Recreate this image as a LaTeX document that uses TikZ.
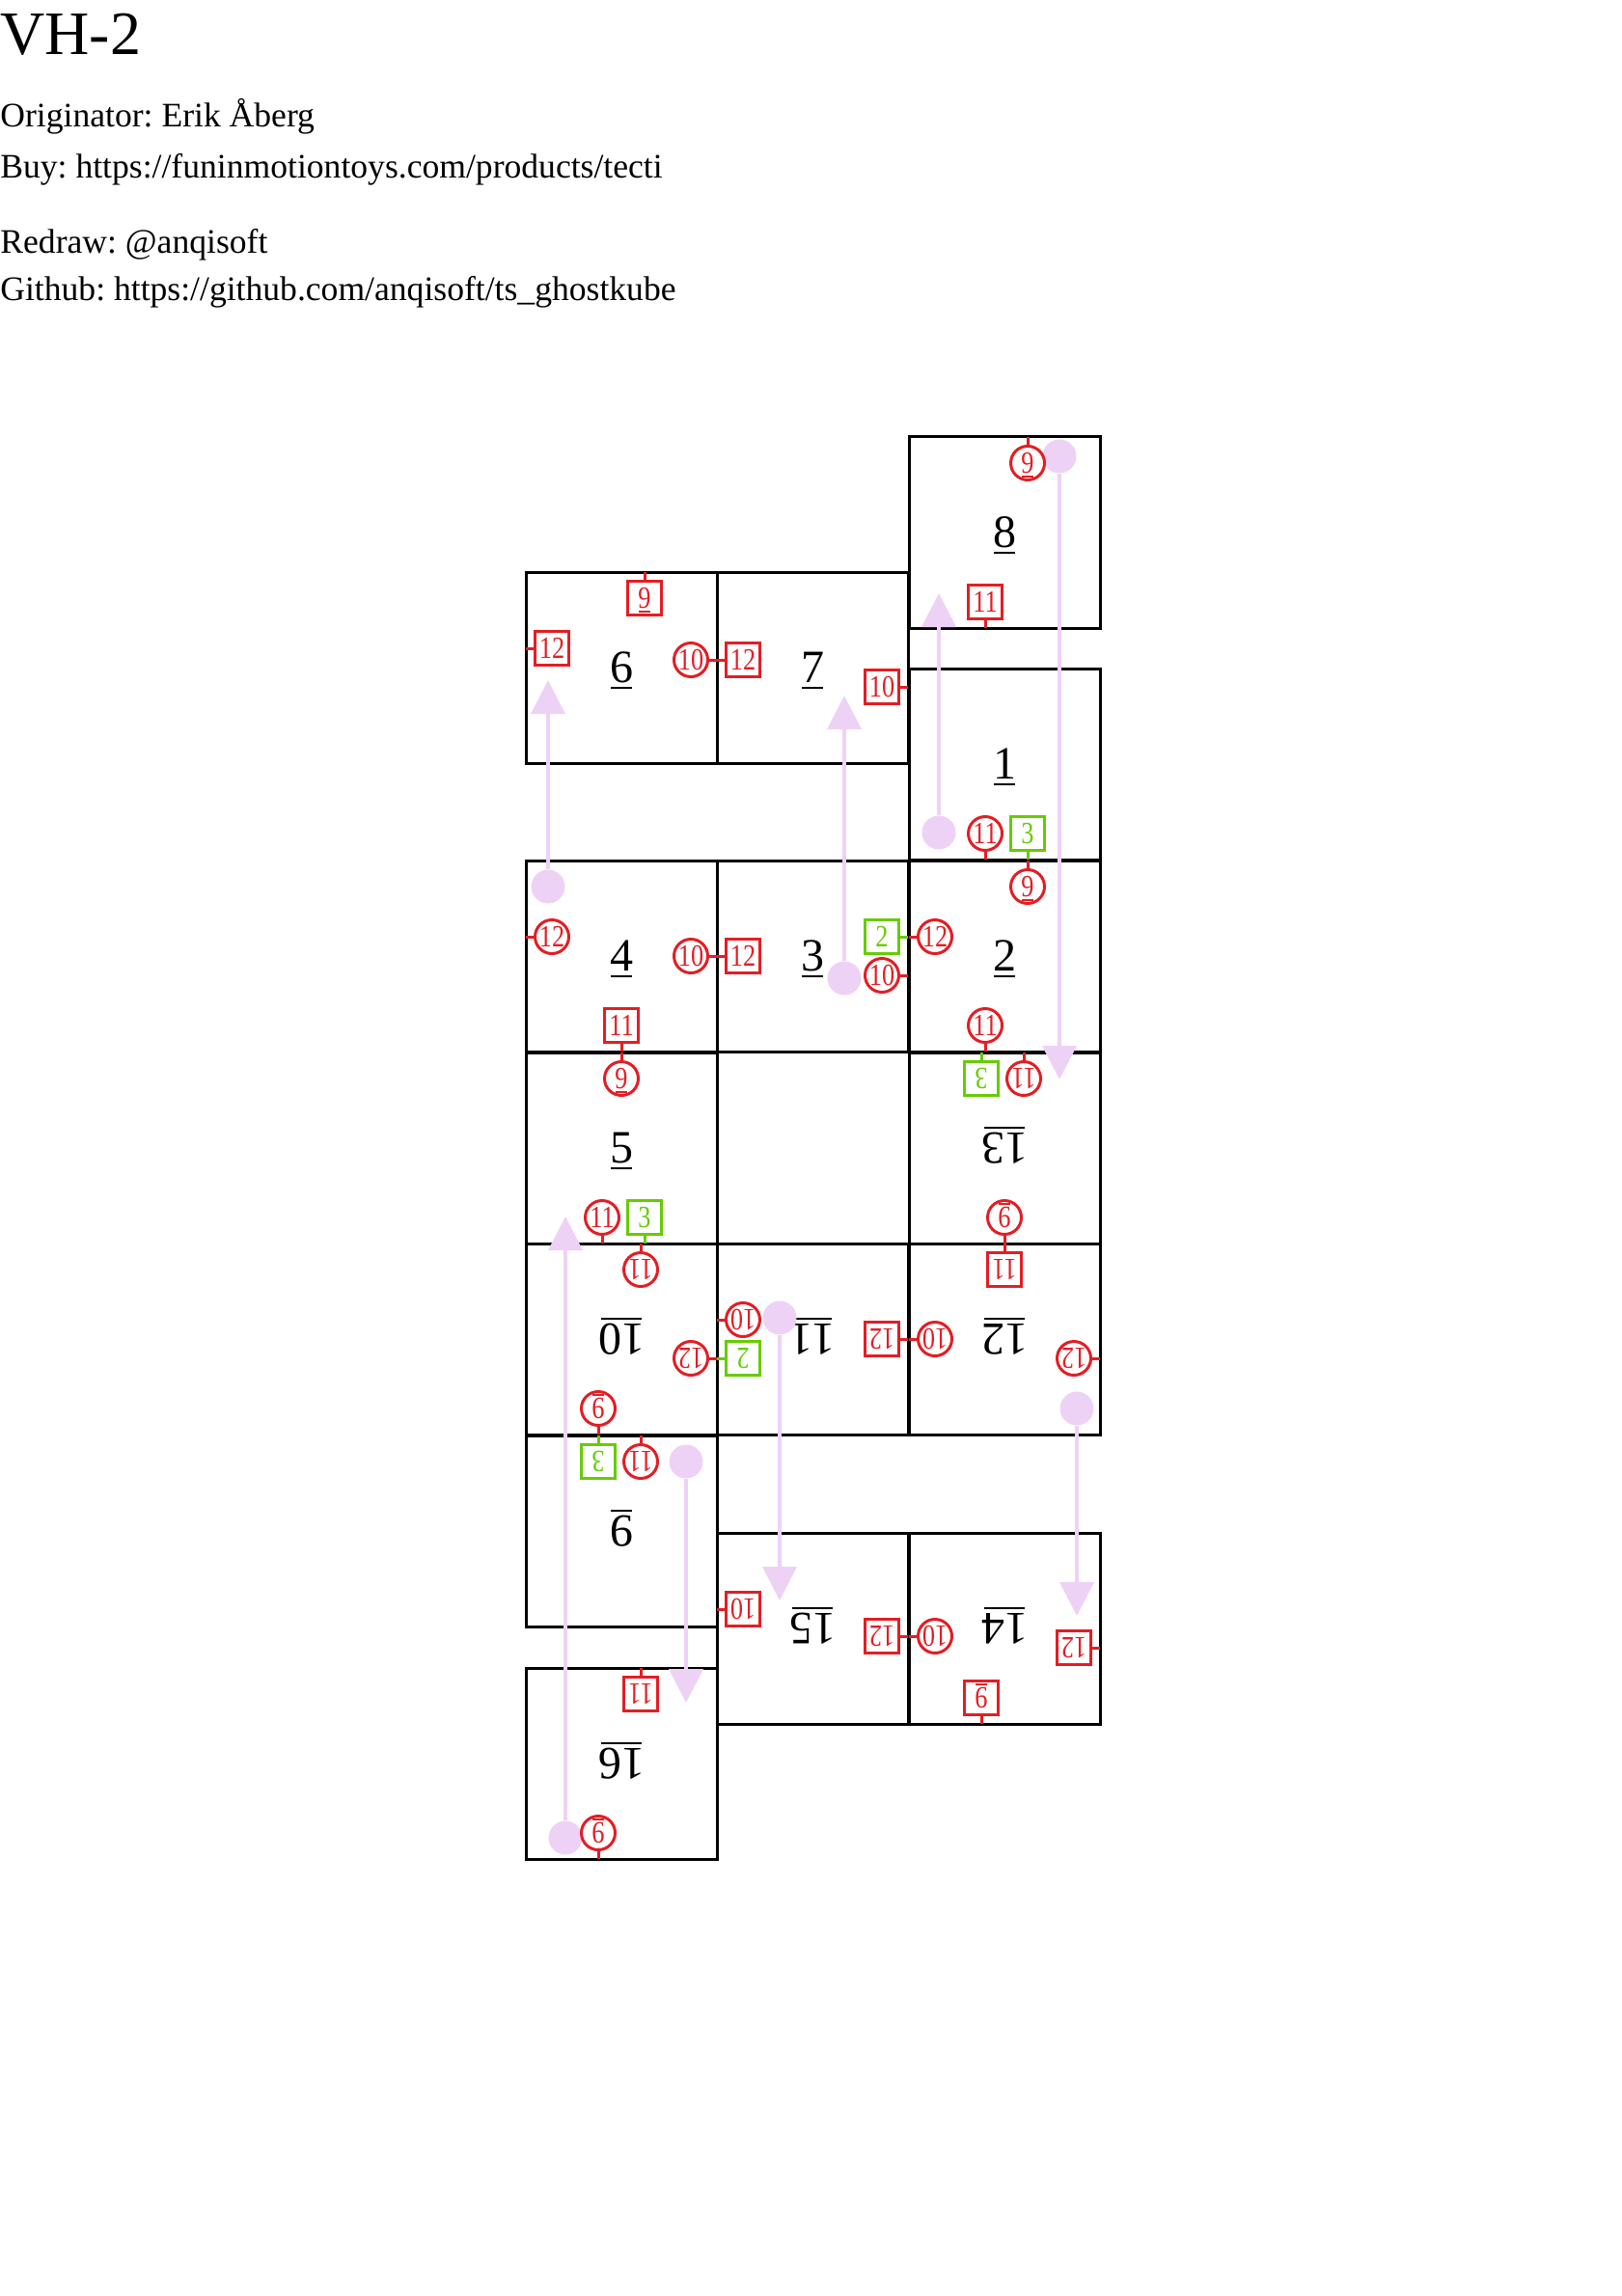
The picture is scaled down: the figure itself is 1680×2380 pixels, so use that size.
\documentclass[tikz,border=0pt]{standalone}
\usepackage{fontspec}
\setmainfont{Liberation Serif}
\newfontfamily\markfont[FakeStretch=0.82]{Liberation Serif}
\usepackage{tikz}
\usepackage{xcolor}
\usetikzlibrary{arrows.meta}

\definecolor{mkred}{RGB}{227,30,36}
\definecolor{mkgreen}{RGB}{102,204,0}
\definecolor{ghost}{RGB}{238,210,246}

\newcommand{\ulnum}[1]{\setbox0=\hbox{#1}\rlap{\kern0.06\wd0\rule[-0.13em]{0.88\wd0}{0.045em}}\box0}
\frenchspacing

\begin{document}
\begin{tikzpicture}[x=0.5pt, y=-0.5pt,
    cellbox/.style={draw, line width=1.5pt, minimum size=99pt, inner sep=0pt, outer sep=0pt},
    celllab/.style={font=\fontsize{24}{28}\selectfont, text depth=0pt, inner sep=0pt},
    cellflip/.style={celllab, rotate=180},
    mkcirc/.style={circle, draw=mkred, text=mkred, fill=white, line width=1.5pt, minimum size=17.5pt, inner sep=0pt, font=\markfont\fontsize{16}{18}\selectfont, text depth=0pt},
    mksq/.style={mkcirc, rectangle},
    mkgsq/.style={mksq, draw=mkgreen, text=mkgreen},
    upside/.style={rotate=180},
    tickr/.style={line width=1.5pt, mkred},
    tickg/.style={line width=1.5pt, mkgreen},
    ghostdot/.style={circle, fill=ghost, minimum size=17.5pt, inner sep=0pt},
    ghostpath/.style={ghost, line width=2pt, -{Triangle[width=17.5pt, length=17.5pt]}},
    head/.style={anchor=base west, inner sep=0pt, font=\fontsize{17.8}{20}\selectfont}]
    \useasboundingbox (0,0) rectangle (1680,2380);

    % Header texts
    \node[head, font=\fontsize{32}{38}\selectfont] (title) at (0,57) {VH-2};
    \node[head] (orig) at (0,132) {Originator: Erik Åberg};
    \node[head] (buy) at (0,185) {Buy: https://funinmotiontoys.com/products/tecti};
    \node[head] (redraw) at (0,263) {Redraw: @anqisoft};
    \node[head] (github) at (0,312) {Github: https://github.com/anqisoft/ts\_ghostkube};

    % Cells
    \node[cellbox] (c8) at (1041,552) {};
    \node[cellbox] (c6) at (644,692) {};
    \node[cellbox] (c7) at (842,692) {};
    \node[cellbox] (c1) at (1041,792) {};
    \node[cellbox] (c4) at (644,991) {};
    \node[cellbox] (c3) at (842,991) {};
    \node[cellbox] (c2) at (1041,991) {};
    \node[cellbox] (c5) at (644,1190) {};
    \node[cellbox] (c13) at (1041,1190) {};
    \node[cellbox] (c10) at (644,1388) {};
    \node[cellbox] (c11) at (842,1388) {};
    \node[cellbox] (c12) at (1041,1388) {};
    \node[cellbox] (c9) at (644,1587) {};
    \node[cellbox] (c15) at (842,1688) {};
    \node[cellbox] (c14) at (1041,1688) {};
    \node[cellbox] (c16) at (644,1828) {};

    % Cell numbers
    \node[celllab] (l8) at (c8) {\ulnum{8}};
    \node[celllab] (l6) at (c6) {\ulnum{6}};
    \node[celllab] (l7) at (c7) {\ulnum{7}};
    \node[celllab] (l1) at (c1) {\ulnum{1}};
    \node[celllab] (l4) at (c4) {\ulnum{4}};
    \node[celllab] (l3) at (c3) {\ulnum{3}};
    \node[celllab] (l2) at (c2) {\ulnum{2}};
    \node[celllab] (l5) at (c5) {\ulnum{5}};
    \node[cellflip] (l13) at (c13) {\ulnum{13}};
    \node[cellflip] (l10) at (c10) {\ulnum{10}};
    \node[cellflip] (l11) at (c11) {\ulnum{11}};
    \node[cellflip] (l12) at (c12) {\ulnum{12}};
    \node[cellflip] (l9) at (c9) {\ulnum{9}};
    \node[cellflip] (l15) at (c15) {\ulnum{15}};
    \node[cellflip] (l14) at (c14) {\ulnum{14}};
    \node[cellflip] (l16) at (c16) {\ulnum{16}};

    % Moves
    \node[ghostdot] (d4) at (568,919) {};
    \coordinate (t4) at (568,705);
    \draw[ghostpath] (d4) -- (t4);
    \node[ghostdot] (d1) at (973,863) {};
    \coordinate (t1) at (973,615);
    \draw[ghostpath] (d1) -- (t1);
    \node[ghostdot] (d3) at (875,1014) {};
    \coordinate (t3) at (875,721);
    \draw[ghostpath] (d3) -- (t3);
    \node[ghostdot] (d8) at (1098,473) {};
    \coordinate (t8) at (1098,1119);
    \draw[ghostpath] (d8) -- (t8);
    \node[ghostdot] (d11) at (808,1366) {};
    \coordinate (t11) at (808,1659);
    \draw[ghostpath] (d11) -- (t11);
    \node[ghostdot] (d12) at (1116,1460) {};
    \coordinate (t12) at (1116,1675);
    \draw[ghostpath] (d12) -- (t12);
    \node[ghostdot] (d9) at (711,1515) {};
    \coordinate (t9) at (711,1765);
    \draw[ghostpath] (d9) -- (t9);
    \node[ghostdot] (d16) at (586,1905) {};
    \coordinate (t16) at (586,1261);
    \draw[ghostpath] (d16) -- (t16);

    % Markers, cell 8
    \node[mkcirc] (m8a) at (1065,480) {\ulnum{9}};
    \node[mksq] (m8b) at (1021,624) {11};
    \draw[tickr] (m8a) -- (m8a |- c8.north);
    \draw[tickr] (m8b) -- (m8b |- c8.south);

    % cell 6
    \node[mksq] (m6a) at (668,620) {\ulnum{9}};
    \node[mksq] (m6b) at (572,672) {12};
    \node[mkcirc] (m6c) at (716,684) {10};
    \draw[tickr] (m6a) -- (m6a |- c6.north);
    \draw[tickr] (m6b) -- (m6b -| c6.west);
    \draw[tickr] (m6c) -- (m6c -| c6.east);

    % cell 7
    \node[mksq] (m7a) at (770,684) {12};
    \node[mksq] (m7b) at (914,712) {10};
    \draw[tickr] (m7a) -- (m7a -| c7.west);
    \draw[tickr] (m7b) -- (m7b -| c7.east);

    % cell 1
    \node[mkcirc] (m1a) at (1021,864) {11};
    \node[mkgsq] (m1b) at (1065,864) {3};
    \draw[tickr] (m1a) -- (m1a |- c1.south);
    \draw[tickg] (m1b) -- (m1b |- c1.south);

    % cell 4
    \node[mkcirc] (m4a) at (572,971) {12};
    \node[mkcirc] (m4b) at (716,991) {10};
    \node[mksq] (m4c) at (644,1063) {11};
    \draw[tickr] (m4a) -- (m4a -| c4.west);
    \draw[tickr] (m4b) -- (m4b -| c4.east);
    \draw[tickr] (m4c) -- (m4c |- c4.south);

    % cell 3
    \node[mksq] (m3a) at (770,991) {12};
    \node[mkgsq] (m3b) at (914,971) {2};
    \node[mkcirc] (m3c) at (914,1011) {10};
    \draw[tickr] (m3a) -- (m3a -| c3.west);
    \draw[tickg] (m3b) -- (m3b -| c3.east);
    \draw[tickr] (m3c) -- (m3c -| c3.east);

    % cell 2
    \node[mkcirc] (m2a) at (1065,919) {\ulnum{9}};
    \node[mkcirc] (m2b) at (969,971) {12};
    \node[mkcirc] (m2c) at (1021,1063) {11};
    \draw[tickr] (m2a) -- (m2a |- c2.north);
    \draw[tickr] (m2b) -- (m2b -| c2.west);
    \draw[tickr] (m2c) -- (m2c |- c2.south);

    % cell 5
    \node[mkcirc] (m5a) at (644,1118) {\ulnum{9}};
    \node[mkcirc] (m5b) at (624,1262) {11};
    \node[mkgsq] (m5c) at (668,1262) {3};
    \draw[tickr] (m5a) -- (m5a |- c5.north);
    \draw[tickr] (m5b) -- (m5b |- c5.south);
    \draw[tickg] (m5c) -- (m5c |- c5.south);

    % cell 13
    \node[mkgsq, upside] (m13a) at (1017,1118) {3};
    \node[mkcirc, upside] (m13b) at (1061,1118) {11};
    \node[mkcirc, upside] (m13c) at (1041,1262) {\ulnum{9}};
    \draw[tickg] (m13a) -- (m13a |- c13.north);
    \draw[tickr] (m13b) -- (m13b |- c13.north);
    \draw[tickr] (m13c) -- (m13c |- c13.south);

    % cell 10
    \node[mkcirc, upside] (m10a) at (664,1316) {11};
    \node[mkcirc, upside] (m10b) at (716,1408) {12};
    \node[mkcirc, upside] (m10c) at (620,1460) {\ulnum{9}};
    \draw[tickr] (m10a) -- (m10a |- c10.north);
    \draw[tickr] (m10b) -- (m10b -| c10.east);
    \draw[tickr] (m10c) -- (m10c |- c10.south);

    % cell 11
    \node[mkcirc, upside] (m11a) at (770,1368) {10};
    \node[mkgsq, upside] (m11b) at (770,1408) {2};
    \node[mksq, upside] (m11c) at (914,1388) {12};
    \draw[tickr] (m11a) -- (m11a -| c11.west);
    \draw[tickg] (m11b) -- (m11b -| c11.west);
    \draw[tickr] (m11c) -- (m11c -| c11.east);

    % cell 12
    \node[mksq, upside] (m12a) at (1041,1316) {11};
    \node[mkcirc, upside] (m12b) at (969,1388) {10};
    \node[mkcirc, upside] (m12c) at (1113,1408) {12};
    \draw[tickr] (m12a) -- (m12a |- c12.north);
    \draw[tickr] (m12b) -- (m12b -| c12.west);
    \draw[tickr] (m12c) -- (m12c -| c12.east);

    % cell 9
    \node[mkgsq, upside] (m9a) at (620,1515) {3};
    \node[mkcirc, upside] (m9b) at (664,1515) {11};
    \draw[tickg] (m9a) -- (m9a |- c9.north);
    \draw[tickr] (m9b) -- (m9b |- c9.north);

    % cell 15
    \node[mksq, upside] (m15a) at (770,1668) {10};
    \node[mksq, upside] (m15b) at (914,1696) {12};
    \draw[tickr] (m15a) -- (m15a -| c15.west);
    \draw[tickr] (m15b) -- (m15b -| c15.east);

    % cell 14
    \node[mkcirc, upside] (m14a) at (969,1696) {10};
    \node[mksq, upside] (m14b) at (1113,1708) {12};
    \node[mksq, upside] (m14c) at (1017,1760) {\ulnum{9}};
    \draw[tickr] (m14a) -- (m14a -| c14.west);
    \draw[tickr] (m14b) -- (m14b -| c14.east);
    \draw[tickr] (m14c) -- (m14c |- c14.south);

    % cell 16
    \node[mksq, upside] (m16a) at (664,1756) {11};
    \node[mkcirc, upside] (m16b) at (620,1900) {\ulnum{9}};
    \draw[tickr] (m16a) -- (m16a |- c16.north);
    \draw[tickr] (m16b) -- (m16b |- c16.south);
\end{tikzpicture}
\end{document}
